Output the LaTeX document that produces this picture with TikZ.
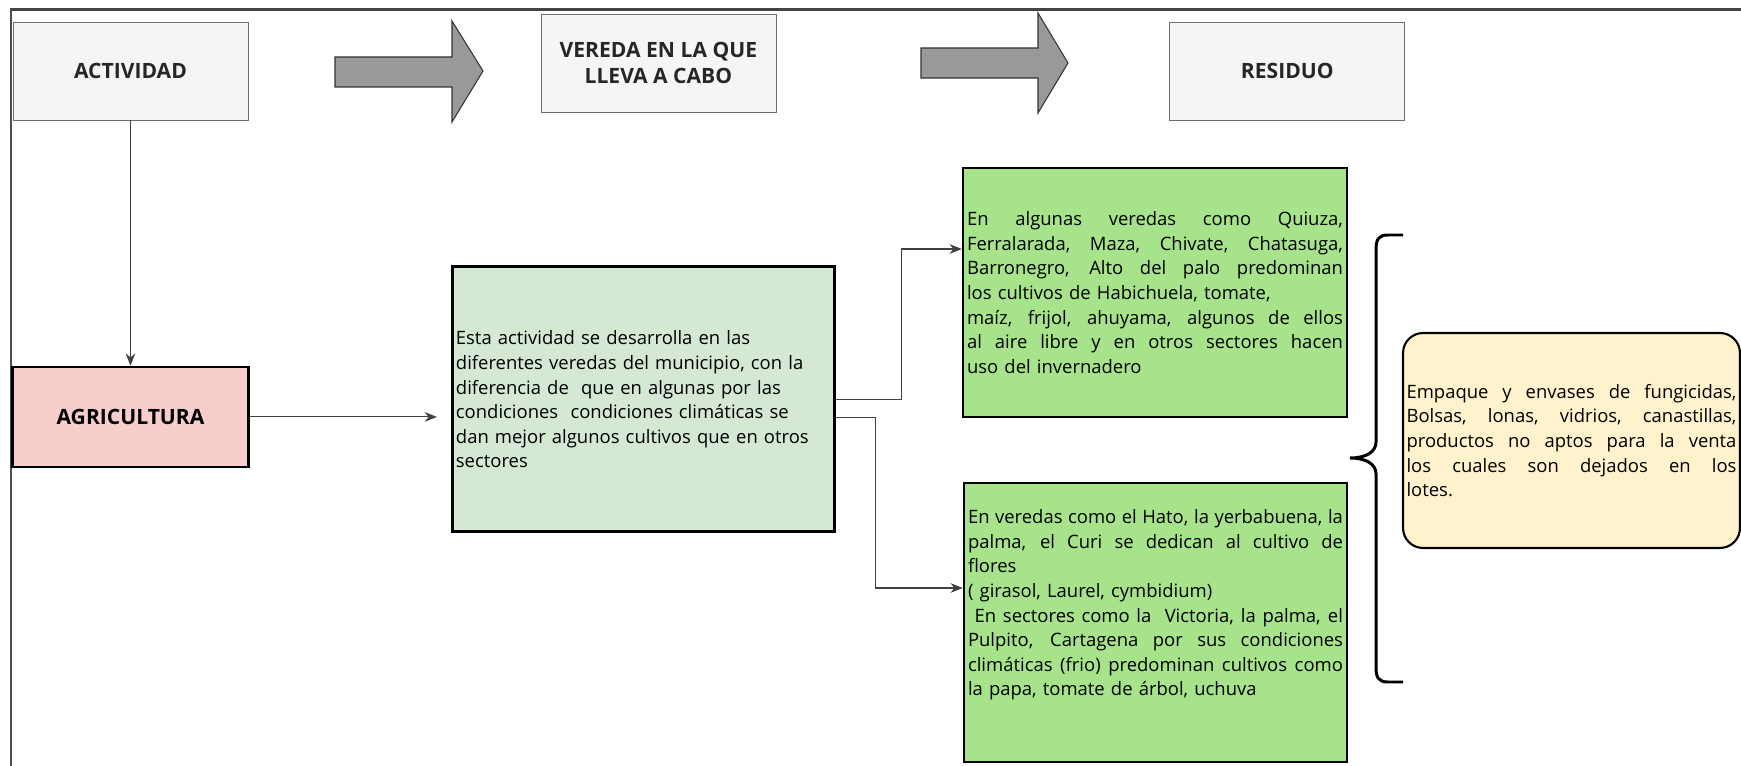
\documentclass[tikz,border=0pt]{standalone}
\usepackage{fontspec}
\setmainfont{Open Sans}
\usepackage{xcolor}
\usetikzlibrary{positioning,arrows.meta}

\definecolor{headfill}{HTML}{F5F5F5}
\definecolor{headline}{HTML}{6E6E6E}
\definecolor{arrowfill}{HTML}{999999}
\definecolor{pinkfill}{HTML}{F8CECC}
\definecolor{palegreen}{HTML}{D5E8D4}
\definecolor{leafgreen}{HTML}{A7E38A}
\definecolor{cream}{HTML}{FFF2CC}
\definecolor{framegray}{HTML}{444444}

% one justified line inside a text box
\newcommand{\jl}[1]{\makebox[\hsize][s]{\spaceskip=\fontdimen2\font plus 1fil\relax#1}}

\begin{document}
\begin{tikzpicture}[x=0.02cm, y=-0.02cm,
    head/.style={rectangle, draw=headline, fill=headfill, minimum width=4.7cm, minimum height=1.96cm, align=center, text=black!85, font=\fontsize{12}{15}\selectfont\bfseries},
    agri/.style={rectangle, draw=black, line width=1.4pt, fill=pinkfill, minimum width=4.72cm, minimum height=2cm, font=\fontsize{12}{15}\selectfont\bfseries},
    txtbox/.style={rectangle, draw=black, line width=1.4pt, inner xsep=0.06cm, align=left, font=\fontsize{10.5}{14}\selectfont},
    blockarrow/.style={draw=black!80, fill=arrowfill, line width=0.6pt},
    conn/.style={draw=black!75, line width=0.6pt, -{Stealth[length=7pt,width=5.5pt]}}]

    \useasboundingbox (0,0) rectangle (1741,766);

    % frame of the page
    \draw[framegray, line width=0.06cm] (10,10) -- (1741,10);
    \draw[black!70, line width=0.03cm] (11,10) -- (11,766);

    % header row
    \node[head] (act) at (130.5,71) {ACTIVIDAD};
    \node[head, right of=act, node distance=10.56cm, yshift=0.16cm] (ver) {VEREDA EN LA QUE\\LLEVA A CABO};
    \node[head, right of=act, node distance=23.14cm] (res) {RESIDUO};

    \draw[blockarrow] (335,57) -- (452,57) -- (452,21) -- (483,71) -- (452,122) -- (452,87) -- (335,87) -- cycle;
    \draw[blockarrow] (921,48) -- (1038,48) -- (1038,13) -- (1068,63) -- (1038,113) -- (1038,78) -- (921,78) -- cycle;

    % activity and description
    \node[agri, below of=act, node distance=6.92cm] (agr) {AGRICULTURA};
    \node[txtbox, fill=palegreen, line width=1.7pt, right of=agr, node distance=10.26cm, yshift=0.35cm,
          minimum width=7.64cm, minimum height=5.3cm, text width=7.5cm] (desc) {%
        Esta actividad se desarrolla en las\\
        diferentes veredas del municipio, con la\\
        diferencia de\ \ que en algunas por las\\
        condiciones\ \ condiciones climáticas se\\
        dan mejor algunos cultivos que en otros\\
        sectores};

    % veredas
    \node[txtbox, fill=leafgreen, minimum width=7.68cm, minimum height=4.98cm, text width=7.52cm] (ver1) at (1155,292.5) {%
        \jl{En algunas veredas como Quiuza,}\\
        \jl{Ferralarada, Maza, Chivate, Chatasuga,}\\
        \jl{Barronegro, Alto del palo predominan}\\
        los cultivos de Habichuela, tomate,\\
        \jl{maíz, frijol, ahuyama, algunos de ellos}\\
        \jl{al aire libre y en otros sectores hacen}\\
        uso del invernadero};
    \node[txtbox, fill=leafgreen, minimum width=7.66cm, minimum height=5.58cm, text width=7.5cm] (ver2) at (1155.5,622.5) {%
        \jl{En veredas como el Hato, la yerbabuena, la}\\
        \jl{palma, el Curi se dedican al cultivo de}\\
        flores\\
        ( girasol, Laurel, cymbidium)\\
        \jl{\ En sectores como la\ \ Victoria, la palma, el}\\
        \jl{Pulpito, Cartagena por sus condiciones}\\
        \jl{climáticas (frio) predominan cultivos como}\\
        la papa, tomate de árbol, uchuva\\[0.3cm]\mbox{}};

    % residue
    \node[txtbox, fill=cream, line width=1.2pt, rounded corners=0.4cm, minimum width=6.74cm, minimum height=4.3cm, text width=6.6cm] (resid) at (1571.5,440.5) {%
        \jl{Empaque y envases de fungicidas,}\\
        \jl{Bolsas, lonas, vidrios, canastillas,}\\
        \jl{productos no aptos para la venta}\\
        \jl{los cuales son dejados en los}\\
        lotes.};

    \draw[line width=1.7pt] (1403,235) -- (1388,235) .. controls (1378,235) and (1376,240) .. (1376,250) -- (1376,442)
        .. controls (1376,452) and (1366,458) .. (1350,458) .. controls (1366,458) and (1376,464) .. (1376,474)
        -- (1376,667) .. controls (1376,677) and (1378,682) .. (1388,682) -- (1403,682);

    % connectors
    \draw[conn] (act.south) -- (act.south |- agr.north);
    \draw[conn, shorten >=0.28cm] (agr.east) -- (agr.east -| desc.west);
    \draw[conn] (desc.east) -- ++(1.32cm,0) |- ([yshift=0.87cm]ver1.west);
    \draw[conn] ([yshift=-0.37cm]desc.east) -- ++(0.8cm,0) |- ([yshift=0.69cm]ver2.west);
\end{tikzpicture}
\end{document}
